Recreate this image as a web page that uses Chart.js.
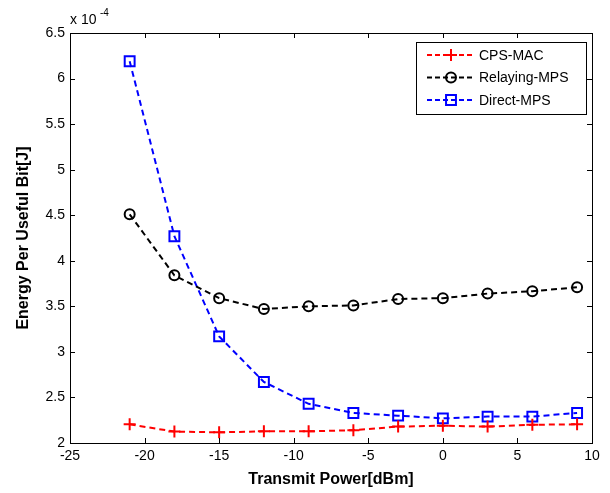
<!DOCTYPE html>
<html>
<head>
<meta charset="utf-8">
<script src="https://cdn.jsdelivr.net/npm/chart.js@4"></script>
<style>
  html, body { margin: 0; padding: 0; background: #fff; }
  #wrap { width: 610px; height: 493px; }
</style>
</head>
<body>
<div id="wrap"><canvas id="myChart"></canvas></div>
<script>
// transmit power [dBm]
var power = [-21, -18, -15, -12, -9, -6, -3, 0, 3, 6, 9];
// energy per useful bit, in units of 1e-4 J
var cpsMac      = [2.205, 2.125, 2.117, 2.128, 2.128, 2.14, 2.18, 2.19, 2.18, 2.20, 2.205];
var relayingMps = [4.51, 3.84, 3.59, 3.47, 3.50, 3.51, 3.58, 3.59, 3.64, 3.665, 3.71];
var directMps   = [6.19, 4.27, 3.17, 2.67, 2.43, 2.33, 2.30, 2.27, 2.29, 2.29, 2.33];
var seriesNames = ['CPS-MAC', 'Relaying-MPS', 'Direct-MPS'];
var xTicks = [-25, -20, -15, -10, -5, 0, 5, 10];
var yTicks = [2, 2.5, 3, 3.5, 4, 4.5, 5, 5.5, 6, 6.5];

var FONT = 'Arial, "Liberation Sans", sans-serif';

function pts(ys) {
  return power.map(function (x, i) { return { x: x, y: ys[i] }; });
}

// MATLAB-ish box with inward ticks, exponent note and legend
var matlabBox = {
  id: 'matlabBox',
  afterDraw: function (chart) {
    var c = chart.ctx, a = chart.chartArea;
    var xs = chart.scales.x, ys = chart.scales.y;
    c.save();
    c.strokeStyle = '#000';
    c.lineWidth = 1;
    c.strokeRect(a.left + 0.5, a.top + 0.5, a.right - a.left, a.bottom - a.top);
    c.beginPath();
    xTicks.forEach(function (v) {
      var px = Math.round(xs.getPixelForValue(v)) + 0.5;
      c.moveTo(px, a.bottom); c.lineTo(px, a.bottom - 5);
      c.moveTo(px, a.top); c.lineTo(px, a.top + 5);
    });
    yTicks.forEach(function (v) {
      var py = Math.round(ys.getPixelForValue(v)) + 0.5;
      c.moveTo(a.left, py); c.lineTo(a.left + 5, py);
      c.moveTo(a.right, py); c.lineTo(a.right - 5, py);
    });
    c.stroke();

    // x 10^-4
    c.fillStyle = '#000';
    c.font = '14px ' + FONT;
    c.textBaseline = 'alphabetic';
    c.textAlign = 'left';
    c.fillText('x 10', a.left, a.top - 9);
    c.font = '10px ' + FONT;
    c.fillText('-4', a.left + 30, a.top - 17);

    // legend
    var lx = 416, ly = 42, lw = 170, lh = 72;
    c.fillStyle = '#fff';
    c.fillRect(lx, ly, lw, lh);
    c.strokeStyle = '#000';
    c.strokeRect(lx + 0.5, ly + 0.5, lw, lh);
    chart.data.datasets.forEach(function (ds, i) {
      var y = 55 + i * 22.5;
      c.strokeStyle = ds.borderColor;
      c.lineWidth = 2;
      c.setLineDash([5, 3]);
      c.beginPath();
      c.moveTo(427, y); c.lineTo(475, y);
      c.stroke();
      c.setLineDash([]);
      c.fillStyle = 'rgba(0,0,0,0)';
      c.strokeStyle = ds.borderColor;
      c.lineWidth = 2;
      Chart.helpers.drawPoint(c, {
        pointStyle: ds.pointStyle,
        radius: ds.pointRadius,
        borderWidth: 2
      }, 451, y);
      c.fillStyle = '#000';
      c.font = '14px ' + FONT;
      c.textBaseline = 'middle';
      c.fillText(ds.label, 479, y + 1);
    });
    c.restore();
  }
};

var ctx = document.getElementById('myChart').getContext('2d');
var myChart = new Chart(ctx, {
  type: 'line',
  data: {
    datasets: [{
      label: seriesNames[0],
      data: pts(cpsMac),
      borderColor: '#ff0000',
      backgroundColor: 'transparent',
      borderWidth: 2,
      borderDash: [6, 4],
      pointStyle: 'cross',
      pointRadius: 6,
      pointBorderWidth: 2,
      tension: 0
    }, {
      label: seriesNames[1],
      data: pts(relayingMps),
      borderColor: '#000000',
      backgroundColor: 'transparent',
      borderWidth: 2,
      borderDash: [6, 4],
      pointStyle: 'circle',
      pointRadius: 5,
      pointBorderWidth: 2,
      tension: 0
    }, {
      label: seriesNames[2],
      data: pts(directMps),
      borderColor: '#0000ff',
      backgroundColor: 'transparent',
      borderWidth: 2,
      borderDash: [6, 4],
      pointStyle: 'rect',
      pointRadius: 7,
      pointBorderWidth: 2,
      tension: 0
    }]
  },
  options: {
    responsive: true,
    maintainAspectRatio: false,
    animation: false,
    layout: { padding: { left: 14, right: 18, top: 33, bottom: 4 } },
    plugins: {
      legend: { display: false },
      tooltip: { enabled: false }
    },
    scales: {
      x: {
        type: 'linear',
        min: -25,
        max: 10,
        afterBuildTicks: function (s) { s.ticks = xTicks.map(function (v) { return { value: v }; }); },
        afterFit: function (s) { s.height = 46; },
        grid: { drawOnChartArea: false, drawTicks: false },
        border: { display: false },
        ticks: { color: '#000', font: { family: FONT, size: 14 }, padding: 5, maxRotation: 0 },
        title: {
          display: true,
          text: 'Transmit Power[dBm]',
          color: '#000',
          font: { family: FONT, size: 16, weight: 'bold' },
          padding: { top: 5, bottom: 0 }
        }
      },
      y: {
        type: 'linear',
        min: 2,
        max: 6.5,
        afterBuildTicks: function (s) { s.ticks = yTicks.map(function (v) { return { value: v }; }); },
        afterFit: function (s) { s.width = 56; },
        grid: { drawOnChartArea: false, drawTicks: false },
        border: { display: false },
        ticks: {
          color: '#000', font: { family: FONT, size: 14 }, padding: 5,
          callback: function (v) { return String(v); }
        },
        title: {
          display: true,
          text: 'Energy Per Useful Bit[J]',
          color: '#000',
          font: { family: FONT, size: 16, weight: 'bold' },
          padding: { top: 0, bottom: 4 }
        }
      }
    }
  },
  plugins: [matlabBox]
});
</script>
</body>
</html>
